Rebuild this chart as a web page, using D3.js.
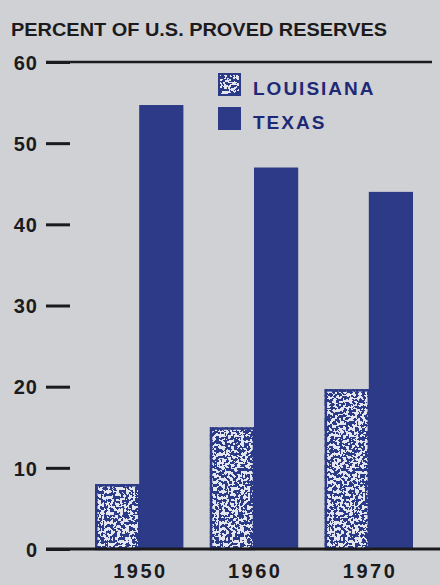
<!DOCTYPE html>
<html>
<head>
<meta charset="utf-8">
<script src="https://cdn.jsdelivr.net/npm/d3@7"></script>
<style>
  html, body { margin: 0; padding: 0; background: #d0d1d5; }
  svg { display: block; }
  text { font-family: "Liberation Sans", Arial, Helvetica, sans-serif; font-weight: bold; }
</style>
</head>
<body>
<svg id="chart" width="440" height="585"></svg>
<script>
// Share of U.S. proved reserves, by state and year
const years = ["1950", "1960", "1970"];
const states = ["LOUISIANA", "TEXAS"];
const louisiana = [8, 15, 19.7];
const texas = [54.7, 47, 44];
const yTicks = [0, 10, 20, 30, 40, 50, 60];
const title = "PERCENT OF U.S. PROVED RESERVES";

const navy = "#2c3a88";
const ink = "#1b1b1d";
const legendInk = "#1f2a77";

const rows = years.map((y, i) => ({ year: y, LOUISIANA: louisiana[i], TEXAS: texas[i] }));

const svg = d3.select("#chart");
const defs = svg.append("defs");

// speckled fill for the Louisiana bars
const f = defs.append("filter").attr("id", "speckle")
  .attr("x", 0).attr("y", 0).attr("width", 1).attr("height", 1);
f.append("feTurbulence").attr("type", "fractalNoise").attr("baseFrequency", 0.32)
  .attr("numOctaves", 2).attr("seed", 11).attr("result", "noise");
f.append("feColorMatrix").attr("in", "noise").attr("type", "matrix")
  .attr("values", "0 0 0 0 0  0 0 0 0 0  0 0 0 0 0  1.6 0 0 0 -0.3").attr("result", "a");
const ct = f.append("feComponentTransfer").attr("in", "a").attr("result", "mask");
ct.append("feFuncA").attr("type", "discrete").attr("tableValues", "0 0 0 0 1 1 1 1");
f.append("feFlood").attr("flood-color", navy).attr("result", "blue");
f.append("feComposite").attr("in", "blue").attr("in2", "mask").attr("operator", "in").attr("result", "dots");
f.append("feFlood").attr("flood-color", "#e4e5ee").attr("result", "paper");
const m = f.append("feMerge").attr("result", "merged");
m.append("feMergeNode").attr("in", "paper");
m.append("feMergeNode").attr("in", "dots");
f.append("feComposite").attr("in", "merged").attr("in2", "SourceGraphic").attr("operator", "in");

const y = d3.scaleLinear().domain([0, 60]).range([549, 62]);
const x0 = d3.scaleBand().domain(years).range([95, 413]).paddingInner(0.23).paddingOuter(0);
const x1 = d3.scaleBand().domain(states).range([0, x0.bandwidth()]).padding(0);

// title
svg.append("text").attr("x", 11).attr("y", 36)
  .attr("font-size", 17.5).attr("fill", ink)
  .attr("textLength", 376).attr("lengthAdjust", "spacingAndGlyphs")
  .text(title);

// y axis with short dash ticks
const axis = d3.axisLeft(y).tickValues(yTicks).tickSize(24).tickPadding(8).tickFormat(d3.format("d"));
const gAxis = svg.append("g").attr("transform", "translate(70,0)").call(axis);
gAxis.select(".domain").remove();
gAxis.selectAll(".tick line").attr("stroke", ink).attr("stroke-width", 3);
gAxis.selectAll(".tick text").attr("fill", ink).attr("font-size", 20)
  .attr("font-family", "'Liberation Sans', Arial, sans-serif").attr("font-weight", "bold")
  .attr("letter-spacing", 1).attr("dy", "0.36em");

// full-width rule at 60
svg.append("line").attr("x1", 46).attr("x2", 432).attr("y1", y(60)).attr("y2", y(60))
  .attr("stroke", ink).attr("stroke-width", 2.5);

// bars
const groups = svg.append("g").selectAll("g").data(rows).join("g")
  .attr("transform", d => `translate(${x0(d.year)},0)`);

groups.append("rect")
  .attr("x", x1("TEXAS")).attr("width", x1.bandwidth())
  .attr("y", d => y(d.TEXAS)).attr("height", d => y(0) - y(d.TEXAS))
  .attr("fill", navy);

groups.append("rect")
  .attr("x", x1("LOUISIANA")).attr("width", x1.bandwidth())
  .attr("y", d => y(d.LOUISIANA)).attr("height", d => y(0) - y(d.LOUISIANA))
  .attr("fill", "#fff").attr("filter", "url(#speckle)");
groups.append("rect")
  .attr("x", x1("LOUISIANA") + 1.25).attr("width", x1.bandwidth() - 1.25)
  .attr("y", d => y(d.LOUISIANA) + 1.25).attr("height", d => y(0) - y(d.LOUISIANA) - 1.25)
  .attr("fill", "none").attr("stroke", navy).attr("stroke-width", 2.5);

// baseline at 0
svg.append("line").attr("x1", 46).attr("x2", 440).attr("y1", y(0)).attr("y2", y(0))
  .attr("stroke", ink).attr("stroke-width", 3);

// year labels
svg.append("g").selectAll("text").data(years).join("text")
  .attr("x", d => x0(d) + x0.bandwidth() / 2 + 1.25).attr("y", 578)
  .attr("text-anchor", "middle").attr("font-size", 20).attr("letter-spacing", 2.5)
  .attr("fill", ink).text(d => d);

// legend
const legend = svg.append("g").selectAll("g").data(states).join("g")
  .attr("transform", (d, i) => `translate(218,${73 + i * 34})`);
legend.append("rect").attr("width", 23).attr("height", 23)
  .attr("fill", d => d === "TEXAS" ? navy : "#fff")
  .attr("filter", d => d === "TEXAS" ? null : "url(#speckle)");
legend.filter(d => d === "LOUISIANA").append("rect")
  .attr("x", 1).attr("y", 1).attr("width", 21).attr("height", 21)
  .attr("fill", "none").attr("stroke", navy).attr("stroke-width", 2);
legend.append("text").attr("x", 35).attr("y", 22)
  .attr("font-size", 19).attr("letter-spacing", 2).attr("fill", legendInk)
  .text(d => d);
</script>
</body>
</html>
